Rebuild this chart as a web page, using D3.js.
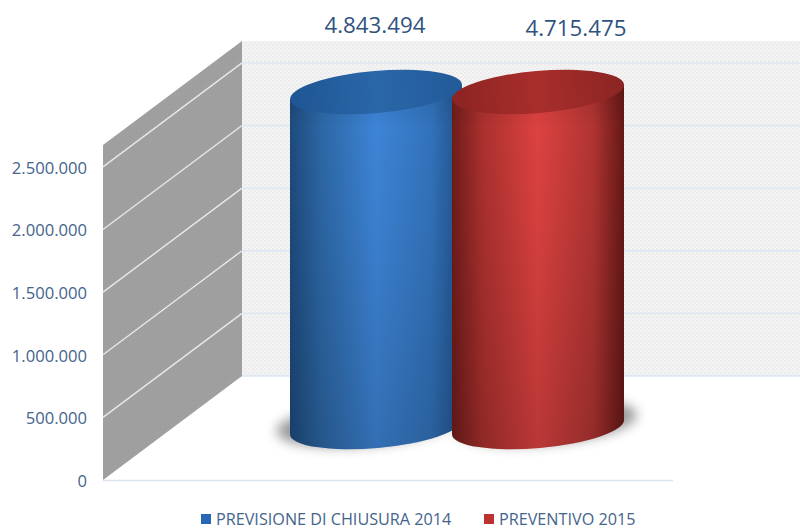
<!DOCTYPE html>
<html><head><meta charset="utf-8">
<script src="https://cdn.jsdelivr.net/npm/d3@7/dist/d3.min.js"></script>
<style>html,body{margin:0;padding:0;background:#fff}svg{display:block}text{font-family:"Open Sans","Noto Sans",sans-serif}</style>
</head><body><div id="c"></div>
<script>
const categories = ["PREVISIONE DI CHIUSURA 2014", "PREVENTIVO 2015"];
const seriesValues = [4843494, 4715475];
const dataLabels = ["4.843.494", "4.715.475"];
const axisTicks = [0, 500000, 1000000, 1500000, 2000000, 2500000];
const tickLabels = ["0", "500.000", "1.000.000", "1.500.000", "2.000.000", "2.500.000"];
const axisMax = 2675000;
const bodyStops = [["#1d4a7c","#2c66a4","#3d84d6","#3272ba","#1f5088"],["#6e1c1a","#aa302e","#dc4240","#b03432","#641816"]];
const topStops = [["#1f5593","#2a67a8","#235a99"],["#8b2422","#a82e2b","#8b2523"]];
const swatch = ["#2767b5","#bb3230"];

const W=800,H=532;
const svg=d3.select("#c").append("svg").attr("width",W).attr("height",H);
const defs=svg.append("defs");

const y=d3.scaleLinear().domain([0,axisMax]).range([480,145]).clamp(true);
const dx=139,dy=-104,x0=103;

const pg=defs.append("pattern").attr("id","wall").attr("width",2).attr("height",2).attr("patternUnits","userSpaceOnUse");
pg.append("rect").attr("width",2).attr("height",2).attr("fill","#a3a3a3");
pg.append("rect").attr("width",1).attr("height",1).attr("fill","#9a9a9a");
pg.append("rect").attr("x",1).attr("y",1).attr("width",1).attr("height",1).attr("fill","#9d9d9d");
const pb=defs.append("pattern").attr("id","back").attr("width",4).attr("height",4).attr("patternUnits","userSpaceOnUse");
pb.append("rect").attr("width",4).attr("height",4).attr("fill","#f4f4f4");
pb.append("rect").attr("width",2).attr("height",2).attr("fill","#ebebeb");
pb.append("rect").attr("x",2).attr("y",2).attr("width",2).attr("height",2).attr("fill","#eeeeee");

const bottom=y(0)+dy, wallTop=y(axisMax)+dy;
svg.append("rect").attr("x",x0+dx).attr("y",wallTop).attr("width",W-x0-dx).attr("height",bottom-wallTop).attr("fill","url(#back)");
svg.append("path").attr("d",d3.line()([[x0,y(axisMax)],[x0+dx,wallTop],[x0+dx,bottom],[x0,y(0)]])+"Z").attr("fill","url(#wall)");

svg.append("g").selectAll("line").data(axisTicks).join("line")
 .attr("x1",x0+dx).attr("x2",W).attr("y1",d=>y(d)+dy).attr("y2",d=>y(d)+dy)
 .attr("stroke","#dbe6f2").attr("stroke-width",1.4);
svg.append("g").selectAll("line").data(axisTicks.slice(1)).join("line")
 .attr("x1",x0).attr("x2",x0+dx).attr("y1",d=>y(d)).attr("y2",d=>y(d)+dy)
 .attr("stroke","#e6e8ec").attr("stroke-width",1.4);
svg.append("line").attr("x1",x0).attr("x2",673).attr("y1",480.5).attr("y2",480.5).attr("stroke","#dbe4ef").attr("stroke-width",1.4);

const yAxis=d3.axisLeft(y).tickValues(axisTicks).tickSize(0).tickPadding(0).tickFormat((d,i)=>tickLabels[i]);
const ga=svg.append("g").attr("transform","translate(87,1)").call(yAxis);
ga.select(".domain").remove();
ga.selectAll("text").attr("fill","#44648c").style("font-size","16.6px");

// Cylinders: the values exceed the axis maximum, so they are clipped at the top of the plot
const xBand=d3.scaleBand().domain(categories).range([290,624]).paddingInner(-0.0617);
const rise=53, ry=21, tilt=5;
const rad=tilt*Math.PI/180;
const f=defs.append("filter").attr("id","sh").attr("x","-20%").attr("y","-40%").attr("width","140%").attr("height","180%");
f.append("feGaussianBlur").attr("stdDeviation",6);
categories.forEach((c,i)=>{
  const g=defs.append("linearGradient").attr("id","g"+i);
  bodyStops[i].forEach((s,k)=>g.append("stop").attr("offset",[0,0.18,0.5,0.82,1][k]).attr("stop-color",s));
  const t=defs.append("linearGradient").attr("id","t"+i);
  topStops[i].forEach((s,k)=>t.append("stop").attr("offset",k/2).attr("stop-color",s));
});
const v=defs.append("linearGradient").attr("id","vs").attr("x1",0).attr("x2",0).attr("y1",0).attr("y2",1);
[[0,0.1],[0.12,0],[0.4,0.04],[1,0.16]].forEach(s=>v.append("stop").attr("offset",s[0]).attr("stop-color","#000").attr("stop-opacity",s[1]));

categories.forEach((c,i)=>{
  const ex=xBand.bandwidth()/2,rx=ex/Math.cos(rad),mx=xBand(c)+ex,yb=y(0)-rise;
  svg.append("ellipse").attr("cx",mx+(i?9:-9)).attr("cy",yb-4).attr("rx",rx+4).attr("ry",ry+1)
    .attr("transform",`rotate(${-tilt} ${mx} ${yb})`).attr("fill","#555").attr("opacity",0.6).attr("filter","url(#sh)");
});
categories.forEach((c,i)=>{
  const ex=xBand.bandwidth()/2,rx=ex/Math.cos(rad),mx=xBand(c)+ex;
  const yb=y(0)-rise, yt=y(seriesValues[i])-rise;
  const ey=ex*Math.tan(rad);
  const gg=svg.append("g");
  const d=`M${mx-ex},${yt+ey}L${mx-ex},${yb+ey}A${rx},${ry} ${-tilt} 0 0 ${mx+ex},${yb-ey}L${mx+ex},${yt-ey}Z`;
  gg.append("path").attr("d",d).attr("fill",`url(#g${i})`);
  gg.append("path").attr("d",d).attr("fill","url(#vs)");
  gg.append("ellipse").attr("cx",mx).attr("cy",yt).attr("rx",rx).attr("ry",ry)
    .attr("transform",`rotate(${-tilt} ${mx} ${yt})`).attr("fill",`url(#t${i})`);
  svg.append("text").attr("x",[375,576][i]).attr("y",[33,36][i]).attr("text-anchor","middle").attr("fill","#2f527f").style("font-size","22.3px").text(dataLabels[i]);
});

const lg=svg.append("g");
[[201,216],[484,499]].forEach((p,i)=>{
  lg.append("rect").attr("x",p[0]).attr("y",514).attr("width",10).attr("height",10).attr("fill",swatch[i]);
  lg.append("text").attr("x",p[1]).attr("y",525).attr("fill","#44648c").style("font-size","16.2px").text(categories[i]);
});
</script></body></html>
